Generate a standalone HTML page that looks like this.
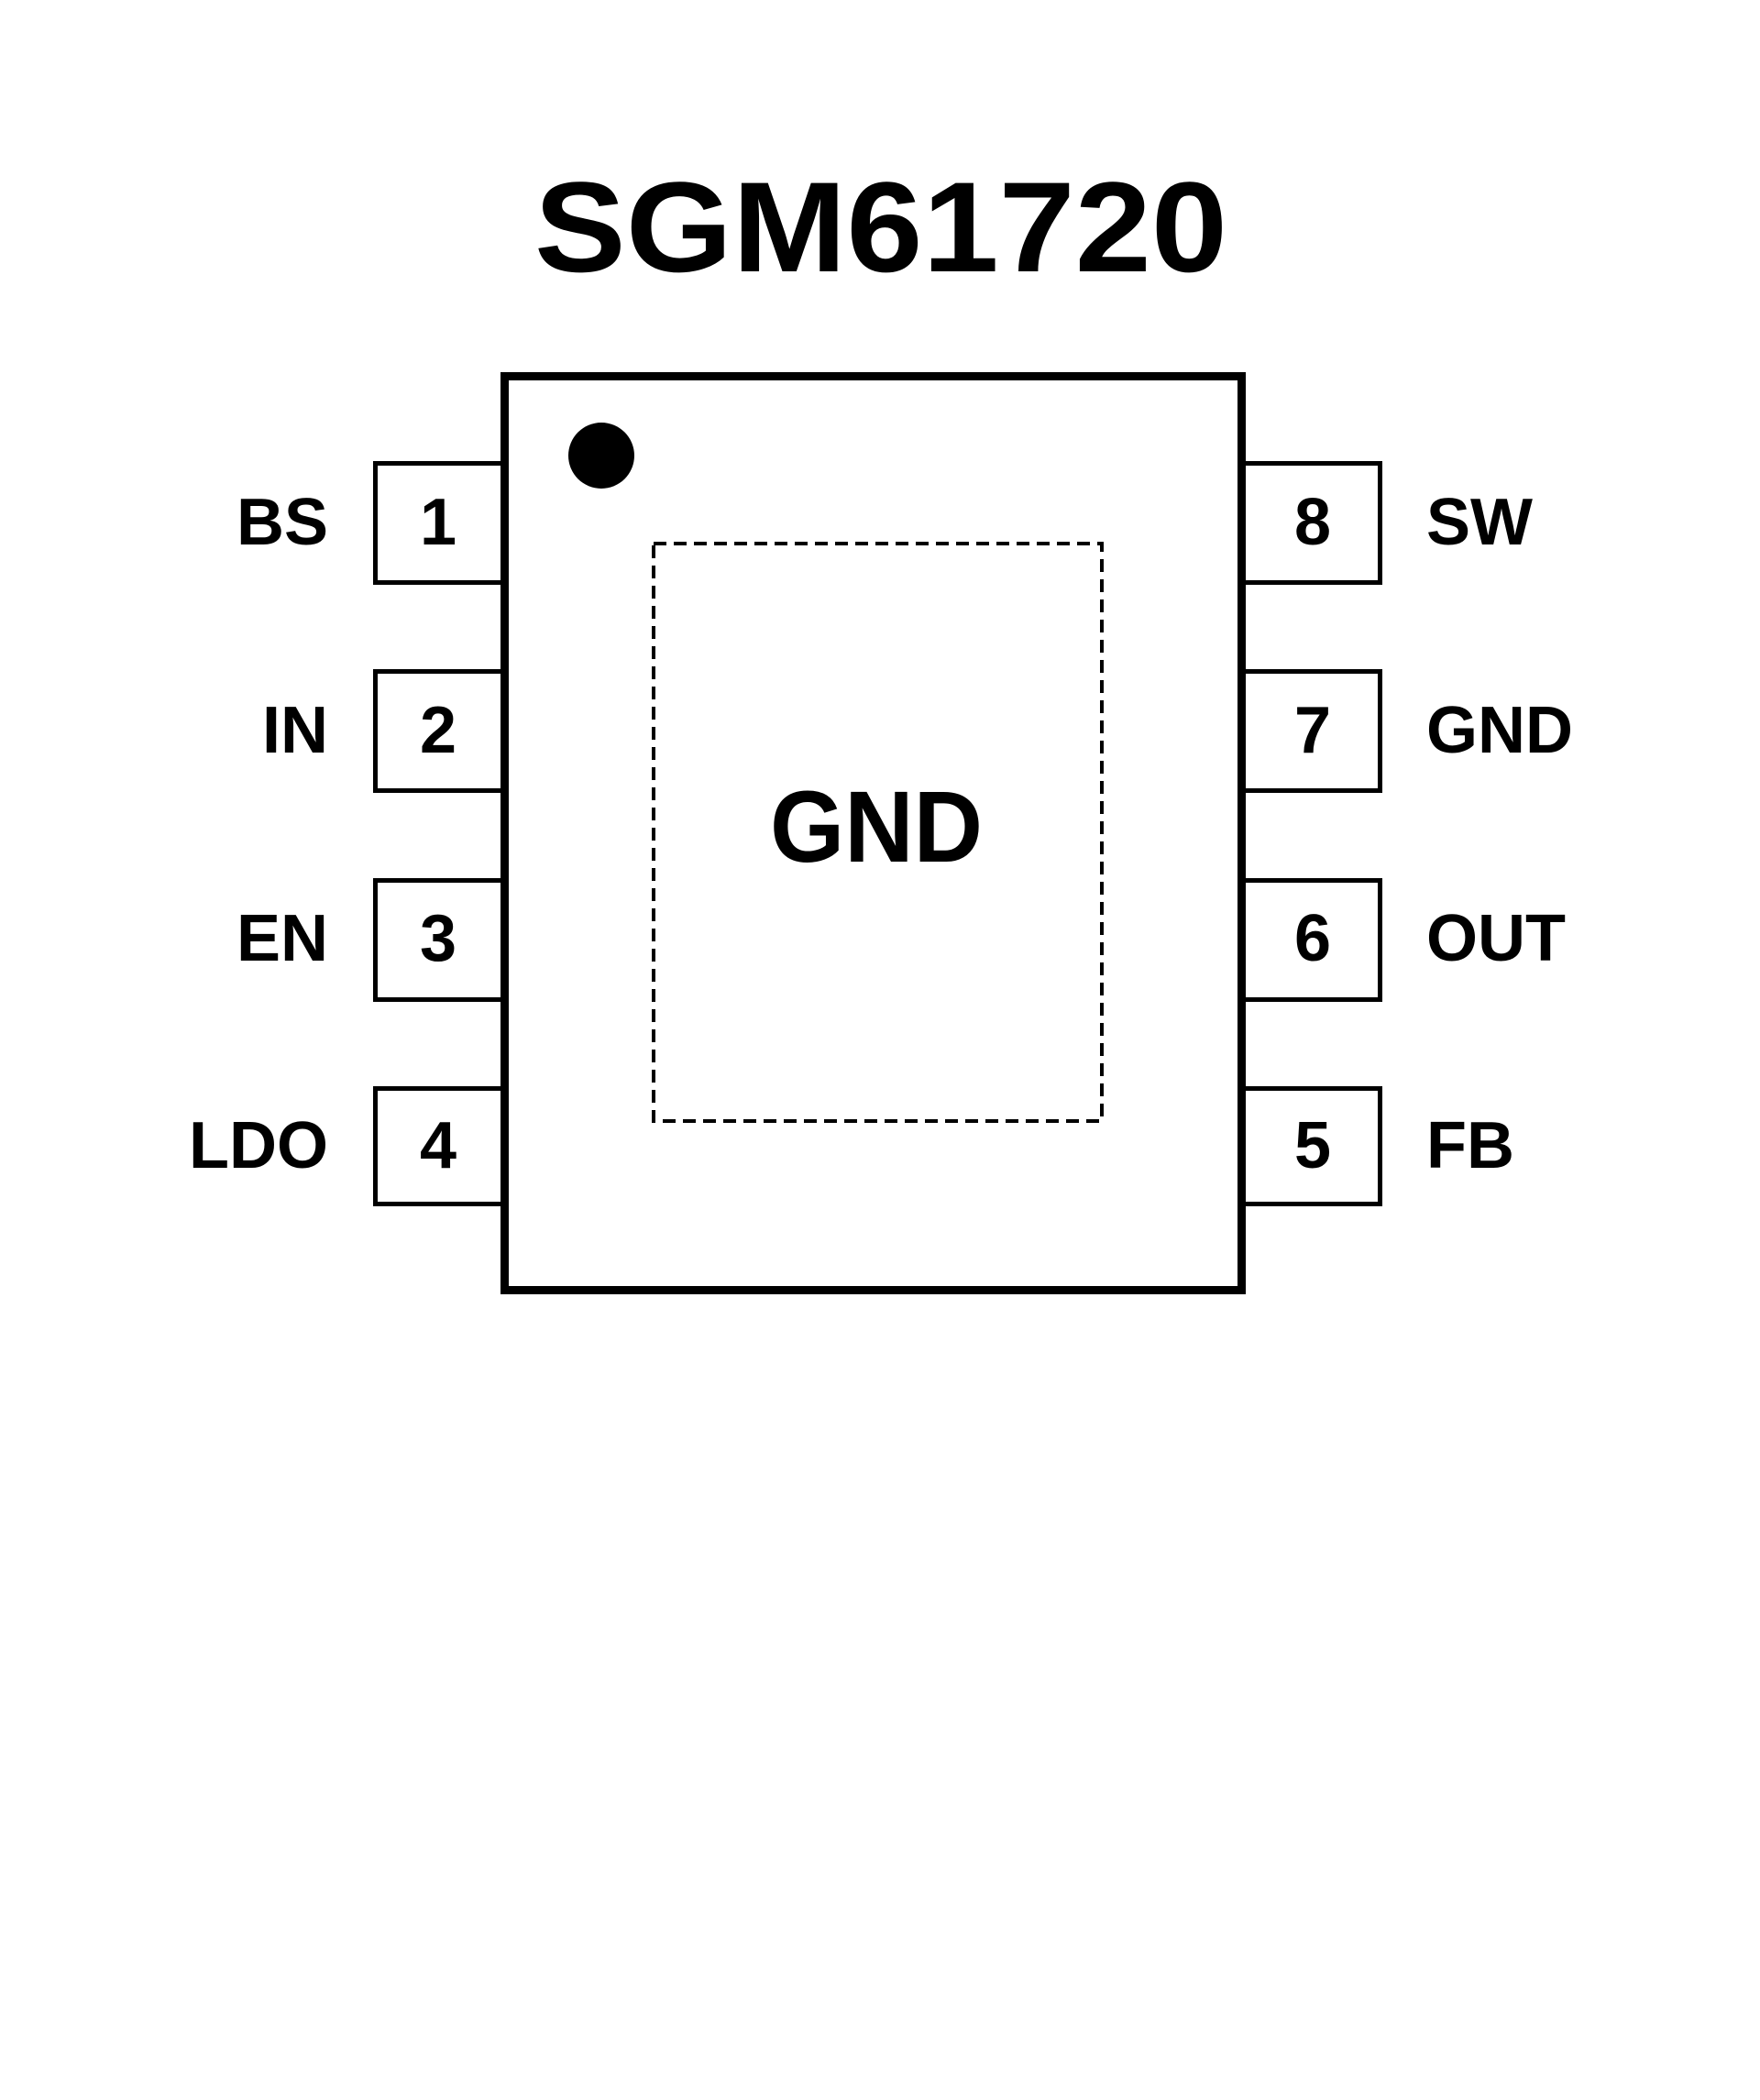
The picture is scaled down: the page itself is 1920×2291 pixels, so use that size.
<!DOCTYPE html>
<html><head><meta charset="utf-8"><style>html,body{margin:0;padding:0;background:#fff}svg{display:block}</style></head>
<body>
<svg width="1920" height="2291" viewBox="0 0 1920 2291" xmlns="http://www.w3.org/2000/svg" font-family="Liberation Sans, Arial, sans-serif" font-weight="bold">
<rect width="1920" height="2291" fill="#fff"/>
<text x="961" y="296" font-size="140" text-anchor="middle" textLength="756" lengthAdjust="spacingAndGlyphs">SGM61720</text>
<g fill="#fff" stroke="#000" stroke-width="5">
<rect x="409.5" y="505.5" width="140" height="130"/>
<rect x="409.5" y="732.5" width="140" height="130"/>
<rect x="409.5" y="960.5" width="140" height="130"/>
<rect x="409.5" y="1187.5" width="140" height="126"/>
<rect x="1356" y="505.5" width="149.5" height="130"/>
<rect x="1356" y="732.5" width="149.5" height="130"/>
<rect x="1356" y="960.5" width="149.5" height="130"/>
<rect x="1356" y="1187.5" width="149.5" height="126"/>
</g>
<rect x="550.5" y="410.5" width="804" height="997" fill="#fff" stroke="#000" stroke-width="9"/>
<circle cx="656" cy="497" r="36" fill="#000"/>
<rect x="713" y="593" width="489" height="630" fill="none" stroke="#000" stroke-width="4" stroke-dasharray="14,8"/>
<text x="956" y="940" font-size="110" text-anchor="middle" textLength="232" lengthAdjust="spacingAndGlyphs">GND</text>
<g font-size="72" text-anchor="middle">
<text x="478" y="594">1</text>
<text x="478" y="821">2</text>
<text x="478" y="1048">3</text>
<text x="478" y="1274">4</text>
<text x="1432" y="594">8</text>
<text x="1432" y="821">7</text>
<text x="1432" y="1048">6</text>
<text x="1432" y="1274">5</text>
</g>
<g font-size="72" text-anchor="end">
<text x="358" y="594">BS</text>
<text x="358" y="821">IN</text>
<text x="358" y="1048">EN</text>
<text x="358" y="1274">LDO</text>
</g>
<g font-size="72">
<text x="1556" y="594">SW</text>
<text x="1556" y="821">GND</text>
<text x="1556" y="1048">OUT</text>
<text x="1556" y="1274">FB</text>
</g>
</svg>
</body></html>
